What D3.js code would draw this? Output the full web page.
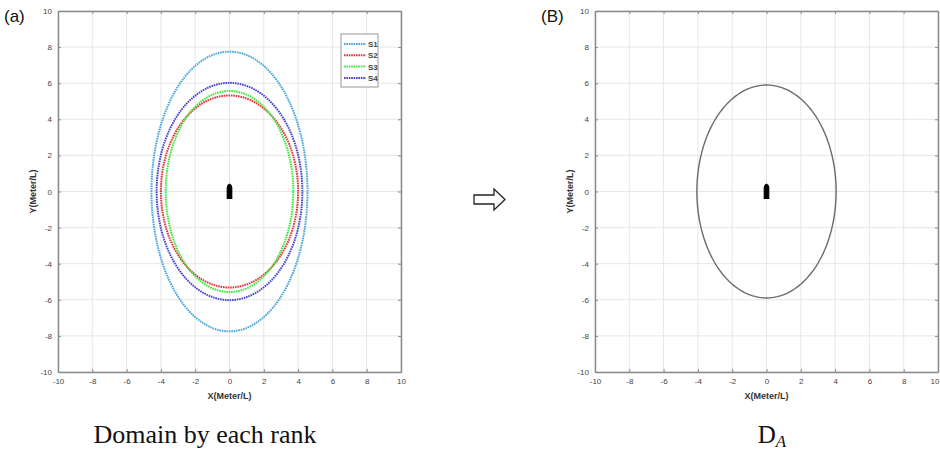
<!DOCTYPE html>
<html>
<head>
<meta charset="utf-8">
<script src="https://cdn.jsdelivr.net/npm/d3@7"></script>
<style>
  body { margin: 0; background: #fff; }
  svg { display: block; }
</style>
</head>
<body>
<div class="container"></div>
<script>
// data
const ticks = [-10, -8, -6, -4, -2, 0, 2, 4, 6, 8, 10]
const seriesNames = ["S1", "S2", "S3", "S4"]
const seriesRx = [4.55, 4.0, 3.72, 4.25]
const seriesRy = [7.75, 5.32, 5.57, 6.02]
const seriesColors = ["#4aa8dc", "#e8343c", "#3ee83e", "#4a46d0"]
const combinedRx = [4.06]
const combinedRy = [5.9]
// ship outline (x, y) in Meter/L
const shipX = [-0.13, -0.13, -0.09, 0, 0.09, 0.13, 0.13]
const shipY = [-0.38, 0.22, 0.34, 0.4, 0.34, 0.22, -0.38]

const W = 940, H = 453

const svg = d3.select(".container")
    .append("svg")
    .attr("width", W)
    .attr("height", H)
    .style("font-family", "Arial, 'Liberation Sans', sans-serif")

const angles = d3.range(0, 361, 3)
const plainFormat = d => String(d)

function drawPanel(left, right, top, bottom, label) {
    const g = svg.append("g")

    const xScale = d3.scaleLinear().domain([-10, 10]).range([left, right])
    const yScale = d3.scaleLinear().domain([-10, 10]).range([bottom, top])

    // grid
    g.selectAll(".gx").data(ticks).enter().append("line")
        .attr("x1", d => xScale(d)).attr("x2", d => xScale(d))
        .attr("y1", top).attr("y2", bottom)
        .attr("stroke", "#e6e6e6").attr("stroke-width", 1)
    g.selectAll(".gy").data(ticks).enter().append("line")
        .attr("y1", d => yScale(d)).attr("y2", d => yScale(d))
        .attr("x1", left).attr("x2", right)
        .attr("stroke", "#e6e6e6").attr("stroke-width", 1)

    // axes
    const xAxis = d3.axisBottom(xScale).tickValues(ticks).tickSizeInner(-3).tickSizeOuter(0).tickPadding(6).tickFormat(plainFormat)
    const yAxis = d3.axisLeft(yScale).tickValues(ticks).tickSizeInner(-3).tickSizeOuter(0).tickPadding(6).tickFormat(plainFormat)

    const xa = g.append("g").attr("transform", `translate(0, ${bottom})`).call(xAxis)
    const ya = g.append("g").attr("transform", `translate(${left}, 0)`).call(yAxis)
    const xt = g.append("g").attr("transform", `translate(0, ${top})`)
        .call(d3.axisTop(xScale).tickValues(ticks).tickSizeInner(-3).tickSizeOuter(0).tickFormat(""))
    const yr = g.append("g").attr("transform", `translate(${right}, 0)`)
        .call(d3.axisRight(yScale).tickValues(ticks).tickSizeInner(-3).tickSizeOuter(0).tickFormat(""))

    ;[xa, ya, xt, yr].forEach(a => {
        a.select(".domain").attr("stroke", "#8a8a8a").attr("stroke-width", 1.5)
        a.selectAll(".tick line").attr("stroke", "#8a8a8a")
        a.selectAll(".tick text").attr("fill", "#444").attr("font-size", 8)
    })

    // keep the last x label inside the window
    if (right > W - 10) {
        xa.selectAll(".tick text").filter(d => d === 10).attr("text-anchor", "end").attr("dx", 1)
    }

    g.append("text")
        .text("X(Meter/L)")
        .attr("x", xScale(0))
        .attr("y", bottom + 27)
        .attr("text-anchor", "middle")
        .attr("font-size", 9)
        .attr("font-weight", "bold")
        .attr("fill", "#333")

    g.append("text")
        .text("Y(Meter/L)")
        .attr("transform", `translate(${left - 22}, ${yScale(0)}) rotate(-90)`)
        .attr("text-anchor", "middle")
        .attr("font-size", 9)
        .attr("font-weight", "bold")
        .attr("fill", "#333")

    g.append("text")
        .text(label)
        .attr("x", left - 54)
        .attr("y", 22)
        .attr("font-size", 17)
        .attr("fill", "#111")

    return {g, xScale, yScale}
}

function ellipse(xScale, yScale, rx, ry) {
    return d3.line()
        .x(a => xScale(rx * Math.cos(a * Math.PI / 180)))
        .y(a => yScale(ry * Math.sin(a * Math.PI / 180)))(angles)
}

function ship(p) {
    p.g.append("path")
        .datum(d3.range(shipX.length))
        .attr("d", d3.line().x(i => p.xScale(shipX[i])).y(i => p.yScale(shipY[i])).curve(d3.curveLinearClosed))
        .attr("fill", "#000")
        .attr("stroke", "#000")
        .attr("stroke-width", 1.2)
}

// Panel (a)
const pa = drawPanel(58, 401, 11, 372, "(a)")

pa.g.selectAll(".rank")
    .data(seriesNames)
    .enter()
    .append("path")
    .attr("d", (d, i) => ellipse(pa.xScale, pa.yScale, seriesRx[i], seriesRy[i]))
    .attr("fill", "none")
    .attr("stroke", (d, i) => seriesColors[i])
    .attr("stroke-width", 2)
    .attr("stroke-dasharray", "1.6,0.8")

ship(pa)

// legend
const leg = pa.g.append("g")
leg.append("rect")
    .attr("x", 341).attr("y", 34).attr("width", 37).attr("height", 53)
    .attr("fill", "#fff").attr("stroke", "#999").attr("stroke-width", 1)
seriesNames.forEach((s, i) => {
    const y = 44 + i * 11.3
    leg.append("line")
        .attr("x1", 344).attr("x2", 366).attr("y1", y).attr("y2", y)
        .attr("stroke", seriesColors[i]).attr("stroke-width", 2)
        .attr("stroke-dasharray", "1.6,0.8")
    leg.append("text")
        .text(s)
        .attr("x", 368).attr("y", y + 3)
        .attr("font-size", 8).attr("font-weight", "bold").attr("fill", "#444")
})

// Panel (B)
const pb = drawPanel(595, 938, 11, 372, "(B)")

pb.g.selectAll(".combined")
    .data(combinedRx)
    .enter()
    .append("path")
    .attr("d", (d, i) => ellipse(pb.xScale, pb.yScale, combinedRx[i], combinedRy[i]))
    .attr("fill", "none")
    .attr("stroke", "#6a6a6a")
    .attr("stroke-width", 1.4)

ship(pb)

// arrow between panels
svg.append("path")
    .attr("d", "M474,195 L494,195 L494,189 L505,199.5 L494,210 L494,204 L474,204 Z")
    .attr("fill", "#fff")
    .attr("stroke", "#222")
    .attr("stroke-width", 1.3)
    .attr("stroke-linejoin", "miter")

// captions
svg.append("text")
    .text("Domain by each rank")
    .attr("x", 205)
    .attr("y", 443)
    .attr("text-anchor", "middle")
    .attr("font-family", "'Liberation Serif', 'Times New Roman', serif")
    .attr("font-size", 26)
    .attr("fill", "#111")

const cap = svg.append("text")
    .attr("x", 772)
    .attr("y", 443)
    .attr("text-anchor", "middle")
    .attr("font-family", "'Liberation Serif', 'Times New Roman', serif")
    .attr("font-size", 25)
    .attr("fill", "#111")
cap.append("tspan").text("D")
cap.append("tspan").text("A").attr("font-style", "italic").attr("font-size", 17).attr("dy", 4)
</script>
</body>
</html>
